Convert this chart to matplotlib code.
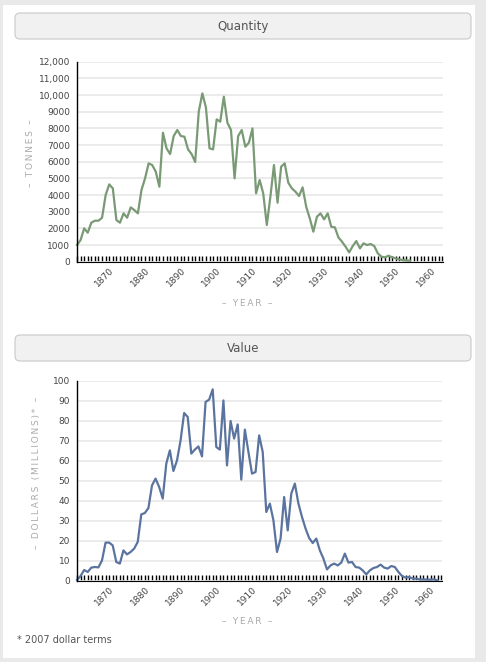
import numpy as np
import matplotlib
matplotlib.use('Agg')
from matplotlib import pyplot as plt
from matplotlib.patches import FancyBboxPatch, Rectangle

# kauri gum style export series, one value per year
qty_start = 1861
quantity = [1000, 1300, 2000, 1740, 2340, 2460, 2460, 2640, 4000, 4640,
            4400, 2500, 2340, 2900, 2640, 3260, 3100, 2900, 4300, 5000,
            5900, 5800, 5400, 4500, 7740, 6800, 6460, 7540, 7900, 7540,
            7500, 6740, 6460, 5980, 9000, 10100, 9260, 6800, 6740, 8540,
            8400, 9900, 8340, 7900, 5000, 7540, 7900, 6900, 7140, 8000,
            4100, 4900, 4100, 2200, 3900, 5800, 3540, 5700, 5900, 4740,
            4400, 4200, 3940, 4460, 3300, 2600, 1800, 2700, 2900, 2540,
            2900, 2100, 2060, 1460, 1200, 900, 560, 940, 1240, 800,
            1100, 1000, 1060, 940, 500, 300, 260, 360, 260, 200,
            140, 100, 80, 60]

val_start = 1861
value = [0.5, 2.5, 5.5, 4.5, 6.7, 7, 6.8, 10.3, 19.2, 19.2,
         17.8, 9.5, 8.7, 15.3, 13.3, 14.5, 16.2, 19.5, 33.3, 34,
         36.5, 47.8, 51.2, 47, 41.2, 58.7, 65.3, 55, 60.3, 70.3,
         84, 82, 63.7, 65.7, 67.3, 62.3, 89.5, 90.7, 95.8, 67,
         65.7, 90.3, 57.8, 80, 71.2, 78.3, 50.7, 75.7, 64.5, 53.7,
         54.5, 72.8, 64.5, 34.5, 38.7, 30.3, 14.5, 21.2, 42, 25.3,
         43.7, 48.7, 38.7, 32, 26.2, 21.5, 19, 21.2, 15.3, 11.2,
         5.8, 7.8, 8.7, 7.8, 9.2, 13.7, 9.2, 9.5, 7, 6.7,
         5.3, 3.3, 5.3, 6.5, 7, 8.2, 6.7, 6.2, 7.5, 7,
         4.5, 2.5, 1.7, 2, 1.2, 1.2, 0.8, 0.8, 0.7, 0.7,
         0.8, 0.3]

qty_ticks = [0, 1000, 2000, 3000, 4000, 5000, 6000, 7000, 8000, 9000, 10000, 11000, 12000]
qty_labels = ['0', '1000', '2000', '3000', '4000', '5000', '6000', '7000', '8000', '9000',
              '10,000', '11,000', '12,000']
val_ticks = [0, 10, 20, 30, 40, 50, 60, 70, 80, 90, 100]
decades = [1870, 1880, 1890, 1900, 1910, 1920, 1930, 1940, 1950, 1960]

W, H = 486, 662
fig = plt.figure(figsize=(W / 100, H / 100), dpi=100, facecolor='#e9e9e9')


def spaced(s):
    # letter-spaced axis captions
    return '\u2009'.join(s)


# background layer in pixel units
bg = fig.add_axes([0, 0, 1, 1], zorder=0)
bg.set_xlim(0, W)
bg.set_ylim(H, 0)
bg.axis('off')
bg.add_patch(Rectangle((3, 5), 472, 653, facecolor='white', edgecolor='none'))
for y0, title in [(13, 'Quantity'), (335, 'Value')]:
    bg.add_patch(FancyBboxPatch((15, y0), 456, 26, boxstyle='round,pad=0,rounding_size=5',
                                facecolor='#f1f1f1', edgecolor='#c9c9c9', linewidth=0.8))
    bg.text(243, y0 + 13.5, title, ha='center', va='center', fontsize=8.5, color='#555555')

cap = dict(ha='center', va='center', fontsize=6.5, color='#aaaaaa')
bg.text(30, 153, spaced('– TONNES –'), rotation=90, **cap)
bg.text(247, 303, spaced('– YEAR –'), **cap)
bg.text(37, 473, spaced('– DOLLARS (MILLIONS)* –'), rotation=90, **cap)
bg.text(247, 622, spaced('– YEAR –'), **cap)
bg.text(17, 640, '* 2007 dollar terms', ha='left', va='center', fontsize=7, color='#555555')


def style_axis(ax, yticks, ylabels, ymax):
    ax.set_facecolor('none')
    ax.set_xlim(1861, 1963.2)
    ax.set_ylim(0, ymax)
    ax.set_yticks(yticks)
    ax.set_yticklabels(ylabels)
    ax.set_xticks(range(1861, 1964))
    ax.set_xticklabels([str(y) if y in decades else '' for y in range(1861, 1964)])
    for lab in ax.get_xticklabels():
        lab.set_rotation(45)
        lab.set_ha('right')
        lab.set_va('top')
        lab.set_rotation_mode('anchor')
    ax.grid(axis='y', color='#e8e8e8', linewidth=1.2)
    ax.set_axisbelow(True)
    for s in ['top', 'right']:
        ax.spines[s].set_visible(False)
    ax.spines['left'].set_color('black')
    ax.spines['left'].set_linewidth(1)
    ax.spines['bottom'].set_color('black')
    ax.spines['bottom'].set_linewidth(0.8)
    ax.tick_params(axis='x', direction='in', length=4, width=1, color='black', pad=3,
                   labelsize=6.5, labelcolor='#444444')
    ax.tick_params(axis='y', length=0, pad=5, labelsize=6.5, labelcolor='#444444')


ax1 = fig.add_axes([77 / W, 1 - 261.7 / H, 366 / W, 200 / H], zorder=1)
style_axis(ax1, qty_ticks, qty_labels, 12000)
ax1.plot(range(qty_start, qty_start + len(quantity)), quantity, color='#7a9a76', linewidth=1.6,
         clip_on=False)

ax2 = fig.add_axes([77 / W, 1 - 581 / H, 365 / W, 200 / H], zorder=1)
style_axis(ax2, val_ticks, [str(v) for v in val_ticks], 100)
ax2.plot(range(val_start, val_start + len(value)), value, color='#5b749f', linewidth=1.6,
         clip_on=False)

plt.savefig('out.png', dpi=100, facecolor=fig.get_facecolor())
